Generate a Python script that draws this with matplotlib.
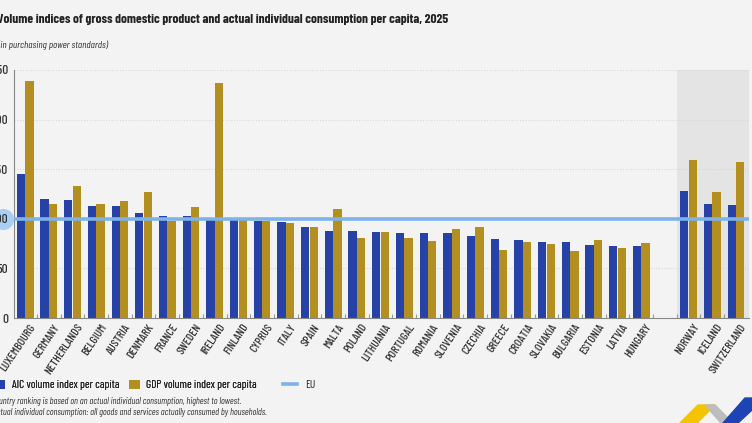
import matplotlib
matplotlib.use("Agg")
import matplotlib.pyplot as plt
import matplotlib.transforms as mtrans
import numpy as np
from matplotlib.patches import Polygon

countries = ["LUXEMBOURG", "GERMANY", "NETHERLANDS", "BELGIUM", "AUSTRIA", "DENMARK",
             "FRANCE", "SWEDEN", "IRELAND", "FINLAND", "CYPRUS", "ITALY", "SPAIN", "MALTA",
             "POLAND", "LITHUANIA", "PORTUGAL", "ROMANIA", "SLOVENIA", "CZECHIA", "GREECE",
             "CROATIA", "SLOVAKIA", "BULGARIA", "ESTONIA", "LATVIA", "HUNGARY",
             "", "NORWAY", "ICELAND", "SWITZERLAND"]
aic = [145, 120, 119, 113, 113, 106, 103, 103, 99, 99, 98, 97, 92, 88, 88, 87, 86, 86,
       86, 83, 80, 78.5, 77, 77, 74, 73, 73, np.nan, 128, 115, 114]
gdp = [239, 115, 133, 114.5, 117.5, 127, 97.5, 111.5, 237, 98.5, 98, 95.5, 92, 109.5,
       81, 87, 81, 77.5, 90, 92, 68.5, 77, 75, 68, 79, 71, 76, np.nan, 159, 127.5, 157]
eu_value = 100
yticks = [0, 50, 100, 150, 200, 250]

BG = "#f3f3f3"
BLUE = "#2642a6"
GOLD = "#b38f21"
EULINE = "#7db3e8"
COND = ["Barlow Condensed", "DejaVu Sans"]

fig = plt.figure(figsize=(7.52, 4.23), dpi=100, facecolor=BG)
ax = fig.add_axes([14/752, 105/423, (749-14)/752, (318-70)/423])
ax.set_facecolor(BG)

x = np.arange(len(countries))
w = 0.35
ax.axvspan(27.5, 30.6, ymin=0, ymax=1.0, color="#e4e4e4", zorder=0, lw=0)
for yv in yticks[1:]:
    ax.axhline(yv, color="#d8d8d8", lw=0.8, ls=(0, (1, 1.5)), zorder=0.5)
b1 = ax.bar(x - 0.18, aic, width=w, color=BLUE, zorder=2, label="AIC volume index per capita")
b2 = ax.bar(x + 0.18, gdp, width=w, color=GOLD, zorder=2, label="GDP volume index per capita")
l1 = ax.axhline(eu_value, color=EULINE, lw=2.6, zorder=3, label="EU")

ax.set_xlim(-0.47, 30.55)
ax.set_ylim(0, 250)
ax.set_yticks(yticks)
ax.set_yticklabels([str(v) for v in yticks], family=COND, fontsize=9.5, color="#333333",
                   fontweight="medium")
ax.tick_params(axis="y", length=0, pad=4)
ax.set_xticks(x)
ax.set_xticklabels(countries, rotation=56, ha="right", va="top", rotation_mode="anchor",
                   family=COND, fontsize=8.5, fontweight="medium", color="#333333")
ax.tick_params(axis="x", length=0, pad=3)
shift = mtrans.ScaledTranslation(4/100, 0, fig.dpi_scale_trans)
for lab in ax.get_xticklabels():
    lab.set_transform(lab.get_transform() + shift)
ax.set_xticks(np.arange(-0.5, 30.5, 1.0)[1:], minor=True)
ax.tick_params(axis="x", which="minor", direction="in", length=3, color="#999999", width=0.8)

for s in ["top", "right"]:
    ax.spines[s].set_visible(False)
for s in ["left", "bottom"]:
    ax.spines[s].set_color("#888888")
    ax.spines[s].set_linewidth(0.8)

# EU highlight circle behind the 100 label
ax.scatter([-0.47 - 11/23.7], [eu_value], s=200, color="#a9cff2", zorder=1, clip_on=False)

fig.text(-3/752, 1 - 23/423, "Volume indices of gross domestic product and actual individual consumption per capita, 2025",
         family=COND, fontsize=9.6, fontweight="bold", color="#222222", ha="left", va="baseline")
fig.text(-2/752, 1 - 48/423, "(in purchasing power standards)", family=COND, fontsize=7.4,
         style="italic", color="#333333", ha="left", va="baseline")

leg1 = fig.legend([b1, b2], ["AIC volume index per capita", "GDP volume index per capita"],
                  loc="center left", bbox_to_anchor=(-5/752, 1 - 385/423), ncol=2,
                  frameon=False, prop={"family": COND, "size": 8.2}, handlelength=0.9,
                  handleheight=0.9, columnspacing=0.9, handletextpad=0.55,
                  borderpad=0, borderaxespad=0)
leg2 = fig.legend([l1], ["EU"], loc="center left", bbox_to_anchor=(283/752, 1 - 385/423),
                  frameon=False, prop={"family": COND, "size": 8.2}, handlelength=1.26,
                  handletextpad=0.7, borderpad=0, borderaxespad=0)
fig.add_artist(leg1)
for lg in (leg1, leg2):
    for t in lg.get_texts():
        t.set_color("#222222")

fig.text(-9/752, 1 - 404/423, "Country ranking is based on an actual individual consumption, highest to lowest.",
         family=COND, fontsize=6.8, style="italic", color="#333333", ha="left", va="baseline")
fig.text(-7/752, 1 - 415/423, "Actual individual consumption: all goods and services actually consumed by households.",
         family=COND, fontsize=6.8, style="italic", color="#333333", ha="left", va="baseline")

# logo shapes
def px(xy):
    return [(a/752, 1 - b/423) for a, b in xy]
fig.patches.append(Polygon(px([(680, 423), (698, 405), (715, 405), (697, 423)]), closed=True,
                           color="#f5c400", transform=fig.transFigure))
fig.patches.append(Polygon(px([(705, 405), (715, 405), (733, 423), (721, 423)]), closed=True,
                           color="#bdbdbd", transform=fig.transFigure))
fig.patches.append(Polygon(px([(723, 423), (745, 398), (752, 398), (752, 410), (738, 423)]), closed=True,
                           color="#1d44b4", transform=fig.transFigure))

fig.savefig("out.png", dpi=100, facecolor=BG)
